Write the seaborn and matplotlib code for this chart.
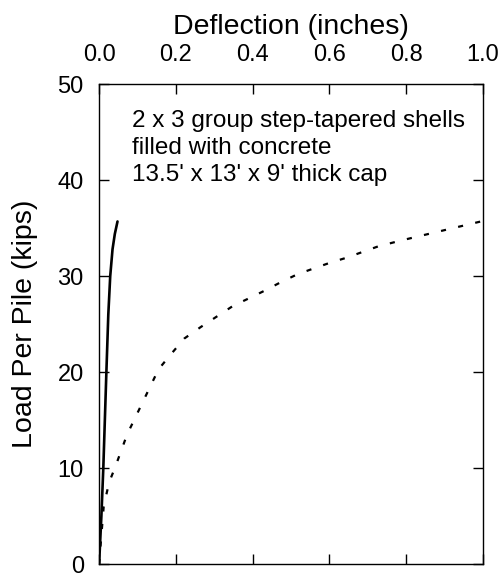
import matplotlib
matplotlib.use("Agg")
import matplotlib.pyplot as plt
import seaborn as sns
import pandas as pd

# Load-deflection data per pile
solid_deflection = [0.0, 0.006, 0.011, 0.019, 0.024, 0.029, 0.035, 0.041, 0.048]
solid_load = [0.0, 5.0, 10.0, 20.0, 26.0, 30.0, 32.8, 34.4, 35.7]

dotted_deflection = [0.0, 0.012, 0.026, 0.042, 0.073, 0.114, 0.155, 0.188, 0.222,
                     0.265, 0.307, 0.349, 0.391, 0.432, 0.475, 0.517, 0.559, 0.602,
                     0.643, 0.685, 0.727, 0.785, 0.827, 0.869, 0.911, 0.953, 1.0]
dotted_load = [0.0, 6.0, 8.5, 10.1, 13.5, 16.9, 20.3, 21.9, 23.5,
               24.7, 25.8, 26.9, 27.7, 28.5, 29.4, 30.2, 30.8, 31.4,
               31.9, 32.5, 33.1, 33.7, 34.1, 34.5, 34.9, 35.3, 35.75]

x_ticks = [0.0, 0.2, 0.4, 0.6, 0.8, 1.0]
y_ticks = [0, 10, 20, 30, 40, 50]

note = "2 x 3 group step-tapered shells\nfilled with concrete\n13.5' x 13' x 9' thick cap"

sns.set_style("white")
plt.rcParams["font.family"] = ["Liberation Sans", "DejaVu Sans"]
plt.rcParams.update({
    "text.color": "black",
    "axes.labelcolor": "black",
    "xtick.color": "black",
    "ytick.color": "black",
})

fig = plt.figure(figsize=(5.03, 5.77), dpi=100)
ax = fig.add_axes([0.197, 0.0225, 0.763, 0.8315])

solid = pd.DataFrame({"deflection": solid_deflection, "load": solid_load})
dotted = pd.DataFrame({"deflection": dotted_deflection, "load": dotted_load})

sns.lineplot(data=solid, x="deflection", y="load", ax=ax, sort=False,
             estimator=None, color="black", linewidth=1.9)
sns.lineplot(data=dotted, x="deflection", y="load", ax=ax, sort=False,
             estimator=None, color="black", linewidth=1.6,
             linestyle=(0, (2.3, 5.6)))

ax.set_xlim(0, 1.0)
ax.set_ylim(0, 50)
ax.set_xticks(x_ticks)
ax.set_yticks(y_ticks)
ax.set_xticklabels([f"{v:.1f}" for v in x_ticks])
ax.set_yticklabels([str(v) for v in y_ticks])

ax.xaxis.set_ticks_position("both")
ax.yaxis.set_ticks_position("both")
ax.xaxis.set_label_position("top")
ax.tick_params(axis="x", which="both", direction="in", length=7.2, width=1,
               color="black", labelcolor="black", labeltop=True,
               labelbottom=False, labelsize=17, pad=13)
ax.tick_params(axis="y", which="both", direction="in", length=7.2, width=1,
               color="black", labelcolor="black", labelleft=True,
               labelright=False, labelsize=17, pad=11)

ax.set_xlabel("Deflection (inches)", fontsize=20.5, labelpad=7, color="black")
ax.set_ylabel("Load Per Pile (kips)", fontsize=20.5, labelpad=14, color="black")

for spine in ax.spines.values():
    spine.set_visible(True)
    spine.set_color("black")
    spine.set_linewidth(1.0)

ax.text(0.086, 47.3, note, fontsize=17.5, va="top", ha="left",
        linespacing=1.28, color="black")

fig.savefig("out.png", dpi=100)
